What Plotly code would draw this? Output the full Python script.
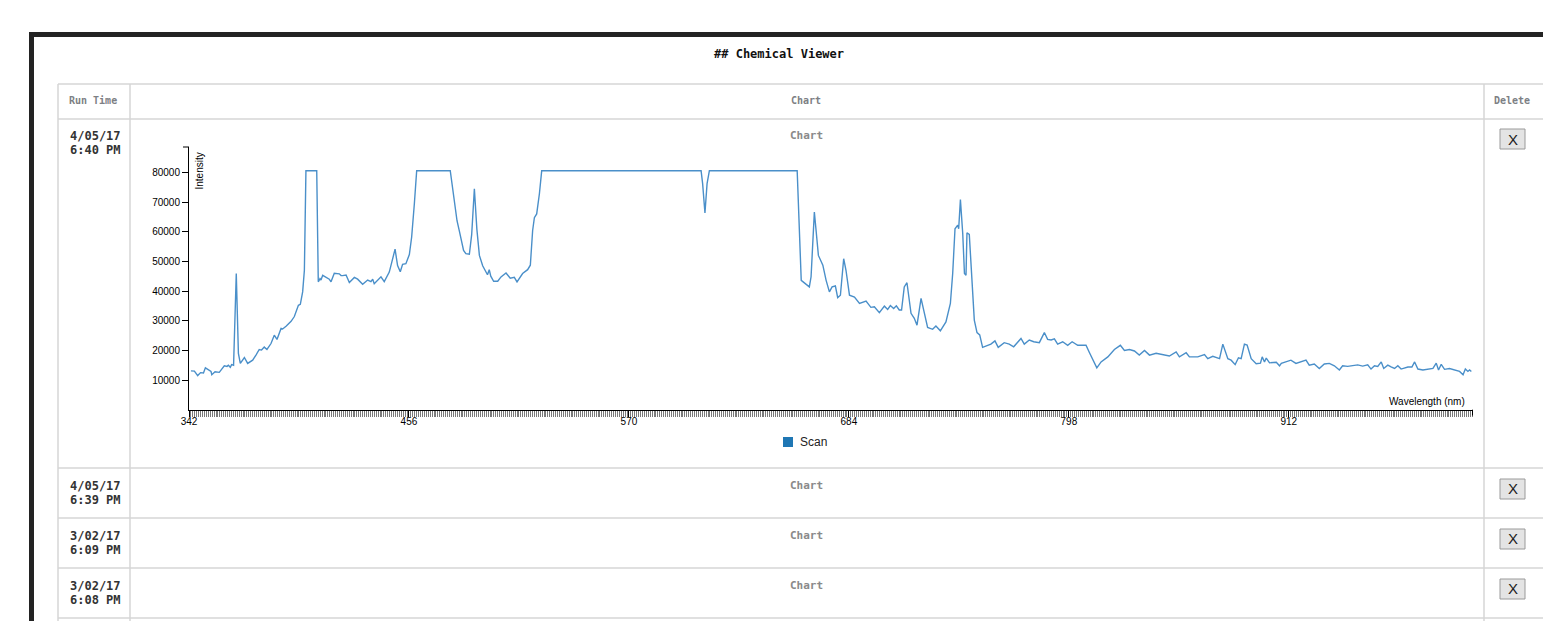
import plotly.graph_objects as go

# ---------------- data ----------------
wavelength = [
    343.0, 344.8, 346.5, 348.0, 349.5, 350.5, 353.4, 353.8, 355.5, 357.7,
    360.3, 361.7, 362.4, 363.4, 364.1, 365.1, 366.5, 367.6, 368.6, 370.7,
    372.4, 375.0, 376.7, 378.4, 379.6, 381.0, 382.4, 384.5, 386.2, 387.6,
    389.7, 390.5, 392.3, 394.9, 396.6, 398.7, 399.7, 400.9, 401.8, 402.6,
    408.2, 409.0, 409.9, 410.4, 411.3, 413.0, 414.7, 415.6, 417.3, 419.9,
    420.8, 421.6, 423.4, 425.1, 427.7, 429.4, 432.0, 434.6, 436.3, 437.2,
    438.0, 441.5, 443.2, 445.8, 447.6, 448.8, 450.1, 451.5, 452.7, 454.4,
    456.2, 457.4, 458.8, 460.0, 477.4, 479.5, 480.9, 482.1, 484.3, 485.5,
    487.3, 488.5, 489.9, 491.2, 492.5, 494.2, 495.0, 496.7, 497.6, 498.4,
    499.9, 502.0, 503.7, 506.3, 508.5, 510.6, 512.0, 514.9, 517.5, 518.9,
    520.1, 521.0, 522.2, 523.6, 524.8, 607.4, 608.2, 609.4, 610.5, 611.7,
    657.2, 659.3, 661.4, 663.5, 664.4, 666.1, 667.0, 668.2, 670.5, 672.2,
    673.9, 675.3, 677.0, 678.2, 679.6, 681.3, 682.5, 684.3, 686.9, 689.5,
    692.9, 695.4, 697.2, 699.8, 702.4, 704.1, 705.5, 707.2, 708.6, 710.1,
    711.3, 712.7, 714.1, 716.2, 717.9, 719.3, 721.4, 722.7, 724.8, 727.4,
    729.1, 731.4, 733.1, 734.3, 736.6, 737.8, 739.0, 740.4, 740.9, 741.8,
    743.0, 743.9, 744.7, 745.2, 746.4, 747.6, 749.0, 750.4, 751.8, 753.3,
    755.0, 757.6, 759.7, 761.4, 764.5, 767.1, 769.4, 771.5, 773.2, 774.9,
    777.5, 779.8, 782.7, 785.3, 787.0, 788.8, 790.5, 792.2, 794.8, 797.4,
    799.7, 802.6, 806.9, 808.7, 810.4, 812.5, 814.7, 818.2, 821.6, 824.7,
    826.8, 829.4, 832.0, 834.5, 837.2, 839.8, 843.2, 846.7, 850.1, 853.6,
    855.3, 858.8, 860.5, 864.8, 868.3, 870.0, 872.6, 876.1, 877.8, 880.4,
    882.1, 884.2, 885.9, 887.3, 889.0, 890.4, 892.5, 895.1, 897.3, 898.2,
    899.4, 900.3, 902.0, 905.5, 907.2, 908.1, 910.5, 913.1, 915.7, 918.3,
    920.9, 922.6, 925.2, 927.8, 930.4, 933.0, 935.6, 938.2, 939.9, 942.5,
    945.1, 947.7, 950.3, 952.9, 954.6, 956.4, 958.1, 959.9, 961.2, 963.3,
    965.0, 966.8, 968.5, 970.2, 973.7, 975.8, 977.2, 978.9, 981.5, 984.1,
    986.7, 988.4, 989.6, 991.0, 992.7, 995.3, 997.9, 1000.5, 1002.3, 1003.5,
    1004.8, 1005.7, 1006.6,
]
intensity = [
    13100, 13000, 11500, 12500, 12400, 14100, 12900, 11800, 12800, 12600,
    14800, 14600, 15000, 14300, 15200, 15000, 45900, 19000, 15600, 17600,
    15600, 16700, 18400, 20300, 20100, 21100, 20300, 22300, 25100, 23700,
    27400, 27200, 28100, 29800, 31400, 35200, 35500, 39700, 47000, 80550,
    80550, 43100, 44200, 43700, 45300, 44600, 44000, 43100, 46000, 45800,
    45200, 45200, 45400, 42900, 44600, 44000, 42300, 43700, 43200, 44000,
    42500, 44800, 43200, 46400, 51000, 54100, 48600, 46500, 49000, 49200,
    52300, 58200, 69500, 80550, 80550, 71000, 63700, 60300, 53700, 52600,
    52400, 59000, 74500, 60800, 52000, 48500, 47500, 45500, 47200, 45000,
    43300, 43300, 44760, 46100, 44300, 44600, 43100, 45900, 47200, 48700,
    60400, 64700, 66000, 72800, 80550, 80550, 76200, 66300, 76200, 80550,
    80550, 43600, 42500, 41400, 44800, 66600, 60400, 52000, 48700, 43600,
    39700, 41400, 41700, 37800, 38600, 50900, 47000, 38600, 38000, 35800,
    36600, 34500, 34700, 32700, 34900, 33800, 35100, 34100, 35000, 33600,
    33600, 41400, 42800, 32500, 30800, 28500, 37500, 33600, 27700, 27100,
    28200, 26600, 28500, 29600, 35800, 45900, 61000, 62200, 61000, 70800,
    59400, 45900, 45300, 59600, 59100, 44800, 30200, 26000, 25200, 21000,
    21500, 22100, 23200, 21000, 22600, 22100, 21200, 22900, 24000, 22100,
    23500, 22900, 22600, 26000, 23700, 23500, 23900, 22100, 22900, 21700,
    22900, 21700, 21700, 19200, 16700, 14100, 16100, 17800, 20300, 21700,
    20000, 20300, 19800, 18400, 20000, 18400, 19000, 18600, 18100, 19500,
    17800, 19200, 17800, 17800, 18600, 17200, 18000, 17200, 22100, 17200,
    16700, 15200, 17500, 17200, 22100, 21800, 17200, 15500, 15700, 17800,
    16100, 17400, 15800, 16000, 14800, 15600, 16100, 16700, 15600, 16100,
    16700, 15000, 15400, 13900, 15400, 15600, 14800, 13400, 14800, 14600,
    14900, 15100, 14700, 15100, 13700, 14800, 14600, 16100, 13900, 15000,
    14400, 13900, 14800, 13700, 14400, 14400, 16100, 13700, 13400, 13600,
    13900, 15700, 13400, 15300, 13600, 13900, 13400, 12900, 11800, 13700,
    12900, 13400, 12900,
]
series_name = "Scan"
x_ticks = [342, 456, 570, 684, 798, 912]
y_ticks = [10000, 20000, 30000, 40000, 50000, 60000, 70000, 80000]
run_times = [("4/05/17", "6:40 PM"), ("4/05/17", "6:39 PM"),
             ("3/02/17", "6:09 PM"), ("3/02/17", "6:08 PM")]
header_labels = ["Run Time", "Chart", "Delete"]
page_title = "## Chemical Viewer"

# ---------------- layout helpers (page pixel -> paper) ----------------
W, H = 1543, 621
def PX(x):
    return x / W
def PY(y):
    return 1 - y / H

MONO = "DejaVu Sans Mono, Liberation Mono, monospace"
SANS = "Liberation Sans, Arial, sans-serif"
GRID = "#d6d6d6"
LINE_BLUE = "#4a8fc9"
LEGEND_BLUE = "#1f77b4"

fig = go.Figure()
fig.add_trace(go.Scatter(
    x=wavelength, y=intensity, mode="lines", name=series_name,
    line=dict(color=LINE_BLUE, width=1.4),
    showlegend=False, hoverinfo="x+y",
))

shapes = []
def rect(x0, y0, x1, y1, fill, line=None, lw=0):
    shapes.append(dict(type="rect", xref="paper", yref="paper",
                       x0=PX(x0), x1=PX(x1), y0=PY(y1), y1=PY(y0),
                       fillcolor=fill,
                       line=dict(color=line or fill, width=lw)))
def hline(x0, x1, y, color=GRID, w=1.5):
    shapes.append(dict(type="line", xref="paper", yref="paper",
                       x0=PX(x0), x1=PX(x1), y0=PY(y), y1=PY(y),
                       line=dict(color=color, width=w)))
def vline(x, y0, y1, color=GRID, w=1.5):
    shapes.append(dict(type="line", xref="paper", yref="paper",
                       x0=PX(x), x1=PX(x), y0=PY(y0), y1=PY(y1),
                       line=dict(color=color, width=w)))

# dark page frame
rect(29, 32, 1560, 37, "#232323")
rect(29, 32, 34, 630, "#232323")

# table grid
for yy in [84, 119, 468, 518, 568, 618]:
    hline(58, 1560, yy)
for xx in [58, 130, 1484]:
    vline(xx, 84, 630)

# delete buttons
for (y0, y1) in [(129, 149), (479, 499), (529, 549), (579, 599)]:
    rect(1500, y0, 1525, y1, "#e4e4e4", "#9a9a9a", 1)

# outer ticks of the axes
vline(1472.5, 409.7, 415.5, color="#000", w=1)
hline(183, 189, 147, color="#000", w=1)

# legend swatch (square) for the series
rect(783, 437, 793, 447, LEGEND_BLUE)

annotations = []
def text(x, y, s, size, color, family, xanchor="center", bold=False, angle=0):
    annotations.append(dict(
        x=PX(x), y=PY(y), xref="paper", yref="paper", text=s, showarrow=False,
        xanchor=xanchor, yanchor="middle", textangle=angle,
        font=dict(size=size, color=color, family=family,
                  weight="bold" if bold else "normal")))

text(779, 54, page_title, 12, "#111", MONO, bold=True)
text(93, 100.5, header_labels[0], 10, "#7d8084", MONO, bold=True)
text(806, 100.5, header_labels[1], 10, "#7d8084", MONO, bold=True)
text(1512, 100.5, header_labels[2], 10, "#7d8084", MONO, bold=True)

row_tops = [119, 468, 518, 568]
for (d, t), top in zip(run_times, row_tops):
    text(68, top + 17.5, d, 12, "#333", MONO, xanchor="left", bold=True)
    text(68, top + 31.5, t, 12, "#333", MONO, xanchor="left", bold=True)
    text(806, top + 17, "Chart", 11, "#8a8a8a", MONO, bold=True)
    text(1512.5, top + 20.5, "X", 15, "#222", SANS)

text(198.5, 171, "Intensity", 10, "#000", SANS, angle=-90)
text(1467, 401, "Wavelength (nm)", 10, "#000", SANS, xanchor="right")
text(798, 442.5, series_name, 12, "#222", SANS, xanchor="left")

fig.update_layout(
    width=W, height=H, autosize=False,
    margin=dict(l=0, r=0, t=0, b=0, pad=0, autoexpand=False),
    paper_bgcolor="white", plot_bgcolor="rgba(0,0,0,0)",
    font=dict(family=SANS, size=10, color="#000"),
    shapes=shapes, annotations=annotations,
    showlegend=False,
    xaxis=dict(
        range=[342, 1007.2], domain=[PX(189), PX(1472.5)],
        automargin=False,
        showline=True, linecolor="#000", linewidth=1,
        ticks="outside", ticklen=6, tickcolor="#000", tickwidth=1,
        tickvals=x_ticks, ticktext=[str(v) for v in x_ticks],
        tickfont=dict(size=10, color="#000"), ticklabelstandoff=-4,
        showgrid=False, zeroline=False, fixedrange=True,
        minor=dict(ticks="outside", tick0=342, dtick=1, ticklen=6,
                   tickcolor="#7a7a7a", tickwidth=1, showgrid=False),
    ),
    yaxis=dict(
        range=[0, 88550], domain=[PY(409.7), PY(147)],
        automargin=False,
        showline=True, linecolor="#000", linewidth=1,
        ticks="outside", ticklen=6, tickcolor="#000", tickwidth=1,
        tickvals=y_ticks, ticktext=[str(v) for v in y_ticks],
        tickfont=dict(size=10, color="#000"),
        showgrid=False, zeroline=False, fixedrange=True,
    ),
)

post = (
    "document.documentElement.style.overflow='hidden';"
    "document.body.style.margin='0';"
    "document.body.style.padding='0';"
    "document.body.style.overflow='hidden';"
)
fig.write_html("out.html", config={"displayModeBar": False}, post_script=post)
